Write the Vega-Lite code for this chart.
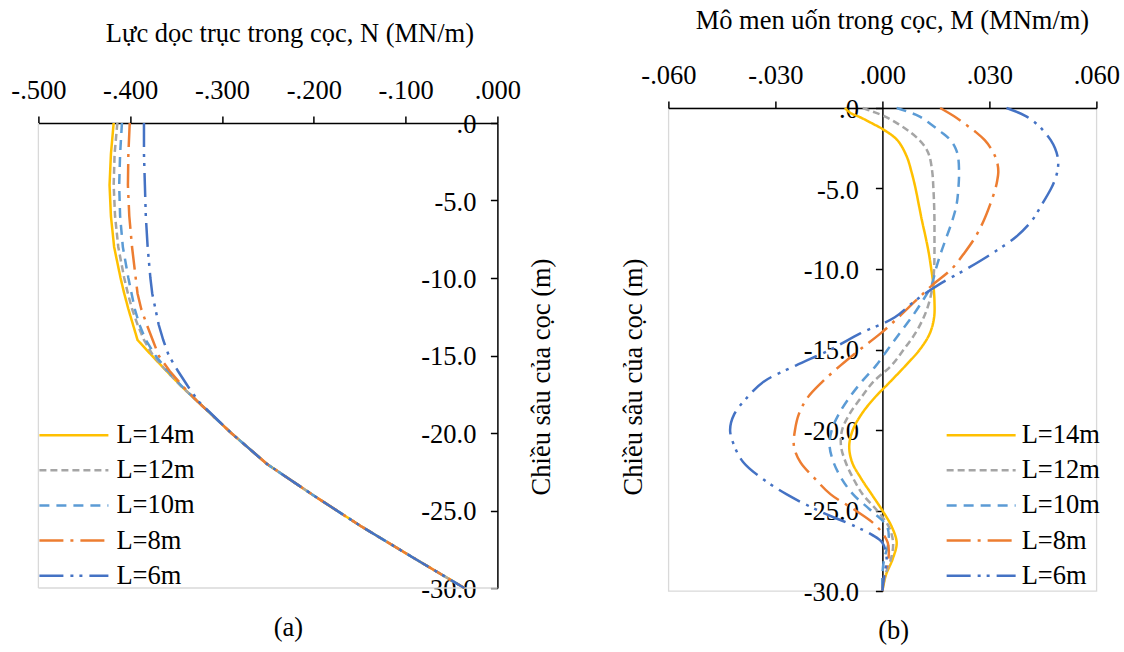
{
 "$schema": "https://vega.github.io/schema/vega-lite/v6.json",
 "padding": {"left": 10.4, "top": 6, "right": 4, "bottom": 4},
 "background": "white",
 "config": {
  "font": "Liberation Serif",
  "view": {"stroke": "#d9d9d9", "strokeWidth": 1.3},
  "axis": {"domainColor": "black", "domainWidth": 1.5, "tickColor": "black", "tickWidth": 1.5, "tickSize": 7, "labelFont": "Liberation Serif", "labelFontSize": 26.5, "labelColor": "black", "titleFont": "Liberation Serif", "titleFontSize": 26.5, "titleFontWeight": "normal", "titleColor": "black", "grid": false, "labelFlush": false, "labelOverlap": false, "labelBound": false},
  "concat": {"spacing": 64},
  "title": {"font": "Liberation Serif", "fontSize": 26.5, "fontWeight": "normal", "color": "black"}
 },
 "datasets": {
  "a": [
   {"L":"L=14m","d":0,"N":-0.418},{"L":"L=14m","d":-2,"N":-0.421},{"L":"L=14m","d":-4,"N":-0.4225},{"L":"L=14m","d":-6,"N":-0.421},{"L":"L=14m","d":-8,"N":-0.4175},{"L":"L=14m","d":-10,"N":-0.4105},{"L":"L=14m","d":-11,"N":-0.4065},{"L":"L=14m","d":-12,"N":-0.402},{"L":"L=14m","d":-13,"N":-0.397},{"L":"L=14m","d":-14,"N":-0.392},{"L":"L=14m","d":-15,"N":-0.3765},{"L":"L=14m","d":-16,"N":-0.3605},{"L":"L=14m","d":-17,"N":-0.344},{"L":"L=14m","d":-18,"N":-0.326},{"L":"L=14m","d":-19,"N":-0.308},{"L":"L=14m","d":-20,"N":-0.29},{"L":"L=14m","d":-22,"N":-0.251},{"L":"L=14m","d":-24,"N":-0.201},{"L":"L=14m","d":-26,"N":-0.149},{"L":"L=14m","d":-28,"N":-0.093},{"L":"L=14m","d":-30,"N":-0.036},
   {"L":"L=12m","d":0,"N":-0.414},{"L":"L=12m","d":-2,"N":-0.417},{"L":"L=12m","d":-4,"N":-0.418},{"L":"L=12m","d":-6,"N":-0.4165},{"L":"L=12m","d":-8,"N":-0.413},{"L":"L=12m","d":-10,"N":-0.4065},{"L":"L=12m","d":-11,"N":-0.4025},{"L":"L=12m","d":-12,"N":-0.398},{"L":"L=12m","d":-13,"N":-0.392},{"L":"L=12m","d":-14,"N":-0.385},{"L":"L=12m","d":-15,"N":-0.375},{"L":"L=12m","d":-16,"N":-0.3605},{"L":"L=12m","d":-17,"N":-0.344},{"L":"L=12m","d":-18,"N":-0.326},{"L":"L=12m","d":-19,"N":-0.308},{"L":"L=12m","d":-20,"N":-0.29},{"L":"L=12m","d":-22,"N":-0.251},{"L":"L=12m","d":-24,"N":-0.201},{"L":"L=12m","d":-26,"N":-0.149},{"L":"L=12m","d":-28,"N":-0.093},{"L":"L=12m","d":-30,"N":-0.036},
   {"L":"L=10m","d":0,"N":-0.409},{"L":"L=10m","d":-2,"N":-0.411},{"L":"L=10m","d":-4,"N":-0.412},{"L":"L=10m","d":-6,"N":-0.411},{"L":"L=10m","d":-8,"N":-0.408},{"L":"L=10m","d":-10,"N":-0.402},{"L":"L=10m","d":-11,"N":-0.3985},{"L":"L=10m","d":-12,"N":-0.395},{"L":"L=10m","d":-13,"N":-0.39},{"L":"L=10m","d":-14,"N":-0.383},{"L":"L=10m","d":-15,"N":-0.3725},{"L":"L=10m","d":-16,"N":-0.359},{"L":"L=10m","d":-17,"N":-0.3435},{"L":"L=10m","d":-18,"N":-0.326},{"L":"L=10m","d":-19,"N":-0.308},{"L":"L=10m","d":-20,"N":-0.29},{"L":"L=10m","d":-22,"N":-0.251},{"L":"L=10m","d":-24,"N":-0.201},{"L":"L=10m","d":-26,"N":-0.149},{"L":"L=10m","d":-28,"N":-0.093},{"L":"L=10m","d":-30,"N":-0.036},
   {"L":"L=8m","d":0,"N":-0.4005},{"L":"L=8m","d":-2,"N":-0.402},{"L":"L=8m","d":-4,"N":-0.4025},{"L":"L=8m","d":-6,"N":-0.401},{"L":"L=8m","d":-8,"N":-0.398},{"L":"L=8m","d":-10,"N":-0.394},{"L":"L=8m","d":-11,"N":-0.392},{"L":"L=8m","d":-12,"N":-0.388},{"L":"L=8m","d":-13,"N":-0.382},{"L":"L=8m","d":-14,"N":-0.3755},{"L":"L=8m","d":-15,"N":-0.369},{"L":"L=8m","d":-16,"N":-0.357},{"L":"L=8m","d":-17,"N":-0.3425},{"L":"L=8m","d":-18,"N":-0.326},{"L":"L=8m","d":-19,"N":-0.308},{"L":"L=8m","d":-20,"N":-0.29},{"L":"L=8m","d":-22,"N":-0.251},{"L":"L=8m","d":-24,"N":-0.201},{"L":"L=8m","d":-26,"N":-0.149},{"L":"L=8m","d":-28,"N":-0.093},{"L":"L=8m","d":-30,"N":-0.036},
   {"L":"L=6m","d":0,"N":-0.385},{"L":"L=6m","d":-2,"N":-0.385},{"L":"L=6m","d":-4,"N":-0.384},{"L":"L=6m","d":-6,"N":-0.383},{"L":"L=6m","d":-8,"N":-0.381},{"L":"L=6m","d":-10,"N":-0.378},{"L":"L=6m","d":-11,"N":-0.376},{"L":"L=6m","d":-12,"N":-0.3725},{"L":"L=6m","d":-13,"N":-0.369},{"L":"L=6m","d":-14,"N":-0.364},{"L":"L=6m","d":-15,"N":-0.358},{"L":"L=6m","d":-16,"N":-0.348},{"L":"L=6m","d":-17,"N":-0.337},{"L":"L=6m","d":-18,"N":-0.325},{"L":"L=6m","d":-19,"N":-0.3075},{"L":"L=6m","d":-20,"N":-0.29},{"L":"L=6m","d":-22,"N":-0.251},{"L":"L=6m","d":-24,"N":-0.201},{"L":"L=6m","d":-26,"N":-0.149},{"L":"L=6m","d":-28,"N":-0.093},{"L":"L=6m","d":-30,"N":-0.036}
  ],
  "b": [
   {"L":"L=14m","d":0,"M":-0.0105},{"L":"L=14m","d":-0.3,"M":-0.009},{"L":"L=14m","d":-0.6,"M":-0.006},{"L":"L=14m","d":-1,"M":-0.0025},{"L":"L=14m","d":-1.3,"M":0},{"L":"L=14m","d":-2,"M":0.0042},{"L":"L=14m","d":-3,"M":0.0068},{"L":"L=14m","d":-4,"M":0.0082},{"L":"L=14m","d":-5,"M":0.0093},{"L":"L=14m","d":-6,"M":0.0102},{"L":"L=14m","d":-7,"M":0.0111},{"L":"L=14m","d":-8,"M":0.0121},{"L":"L=14m","d":-9,"M":0.013},{"L":"L=14m","d":-10,"M":0.0137},{"L":"L=14m","d":-11,"M":0.0143},{"L":"L=14m","d":-12,"M":0.0146},{"L":"L=14m","d":-13,"M":0.0145},{"L":"L=14m","d":-14,"M":0.0133},{"L":"L=14m","d":-15,"M":0.0105},{"L":"L=14m","d":-16,"M":0.0065},{"L":"L=14m","d":-17,"M":0.0022},{"L":"L=14m","d":-18,"M":-0.0022},{"L":"L=14m","d":-19,"M":-0.0058},{"L":"L=14m","d":-20,"M":-0.0083},{"L":"L=14m","d":-21,"M":-0.0093},{"L":"L=14m","d":-22,"M":-0.0085},{"L":"L=14m","d":-23,"M":-0.006},{"L":"L=14m","d":-24,"M":-0.003},{"L":"L=14m","d":-25,"M":0},{"L":"L=14m","d":-26,"M":0.0026},{"L":"L=14m","d":-27,"M":0.004},{"L":"L=14m","d":-28,"M":0.0029},{"L":"L=14m","d":-29,"M":0.001},{"L":"L=14m","d":-30,"M":0},
   {"L":"L=12m","d":0,"M":-0.0055},{"L":"L=12m","d":-0.2,"M":-0.003},{"L":"L=12m","d":-0.5,"M":0.0005},{"L":"L=12m","d":-1,"M":0.0045},{"L":"L=12m","d":-1.5,"M":0.0078},{"L":"L=12m","d":-2,"M":0.0104},{"L":"L=12m","d":-2.5,"M":0.0122},{"L":"L=12m","d":-3,"M":0.0132},{"L":"L=12m","d":-4,"M":0.014},{"L":"L=12m","d":-5,"M":0.0143},{"L":"L=12m","d":-6,"M":0.0145},{"L":"L=12m","d":-7,"M":0.0146},{"L":"L=12m","d":-8,"M":0.0146},{"L":"L=12m","d":-9,"M":0.0146},{"L":"L=12m","d":-10,"M":0.0145},{"L":"L=12m","d":-11,"M":0.0141},{"L":"L=12m","d":-12,"M":0.0132},{"L":"L=12m","d":-13,"M":0.0116},{"L":"L=12m","d":-14,"M":0.0092},{"L":"L=12m","d":-15,"M":0.006},{"L":"L=12m","d":-16,"M":0.0025},{"L":"L=12m","d":-17,"M":-0.0025},{"L":"L=12m","d":-18,"M":-0.006},{"L":"L=12m","d":-19,"M":-0.0092},{"L":"L=12m","d":-20,"M":-0.0113},{"L":"L=12m","d":-21,"M":-0.0116},{"L":"L=12m","d":-22,"M":-0.0103},{"L":"L=12m","d":-23,"M":-0.0082},{"L":"L=12m","d":-24,"M":-0.0055},{"L":"L=12m","d":-25,"M":-0.0015},{"L":"L=12m","d":-26,"M":0.0018},{"L":"L=12m","d":-27,"M":0.003},{"L":"L=12m","d":-28,"M":0.0024},{"L":"L=12m","d":-29,"M":0.0008},{"L":"L=12m","d":-30,"M":0},
   {"L":"L=10m","d":0,"M":0.004},{"L":"L=10m","d":-0.5,"M":0.0102},{"L":"L=10m","d":-1,"M":0.0135},{"L":"L=10m","d":-1.5,"M":0.0165},{"L":"L=10m","d":-2,"M":0.0191},{"L":"L=10m","d":-2.5,"M":0.0205},{"L":"L=10m","d":-3,"M":0.0212},{"L":"L=10m","d":-4,"M":0.0215},{"L":"L=10m","d":-5,"M":0.0213},{"L":"L=10m","d":-6,"M":0.0208},{"L":"L=10m","d":-7,"M":0.0196},{"L":"L=10m","d":-8,"M":0.018},{"L":"L=10m","d":-9,"M":0.0164},{"L":"L=10m","d":-10,"M":0.015},{"L":"L=10m","d":-11,"M":0.0138},{"L":"L=10m","d":-12,"M":0.0112},{"L":"L=10m","d":-13,"M":0.0082},{"L":"L=10m","d":-14,"M":0.0048},{"L":"L=10m","d":-15,"M":0.0015},{"L":"L=10m","d":-16,"M":-0.0018},{"L":"L=10m","d":-17,"M":-0.0058},{"L":"L=10m","d":-18,"M":-0.0093},{"L":"L=10m","d":-19,"M":-0.0122},{"L":"L=10m","d":-20,"M":-0.0142},{"L":"L=10m","d":-21,"M":-0.0148},{"L":"L=10m","d":-22,"M":-0.0137},{"L":"L=10m","d":-23,"M":-0.0115},{"L":"L=10m","d":-24,"M":-0.0082},{"L":"L=10m","d":-25,"M":-0.0032},{"L":"L=10m","d":-26,"M":0.0013},{"L":"L=10m","d":-27,"M":0.0017},{"L":"L=10m","d":-28,"M":0.0005},{"L":"L=10m","d":-29,"M":0},{"L":"L=10m","d":-30,"M":0},
   {"L":"L=8m","d":0,"M":0.0162},{"L":"L=8m","d":-0.5,"M":0.02},{"L":"L=8m","d":-1,"M":0.0232},{"L":"L=8m","d":-1.5,"M":0.0262},{"L":"L=8m","d":-2,"M":0.0287},{"L":"L=8m","d":-2.5,"M":0.0304},{"L":"L=8m","d":-3,"M":0.0316},{"L":"L=8m","d":-3.5,"M":0.0323},{"L":"L=8m","d":-4,"M":0.0325},{"L":"L=8m","d":-4.5,"M":0.0322},{"L":"L=8m","d":-5,"M":0.0317},{"L":"L=8m","d":-6,"M":0.0302},{"L":"L=8m","d":-7,"M":0.0284},{"L":"L=8m","d":-8,"M":0.0261},{"L":"L=8m","d":-9,"M":0.023},{"L":"L=8m","d":-10,"M":0.0194},{"L":"L=8m","d":-11,"M":0.014},{"L":"L=8m","d":-12,"M":0.0092},{"L":"L=8m","d":-13,"M":0.0045},{"L":"L=8m","d":-14,"M":-0.0005},{"L":"L=8m","d":-15,"M":-0.0063},{"L":"L=8m","d":-16,"M":-0.0118},{"L":"L=8m","d":-17,"M":-0.0168},{"L":"L=8m","d":-18,"M":-0.021},{"L":"L=8m","d":-19,"M":-0.0234},{"L":"L=8m","d":-20,"M":-0.0245},{"L":"L=8m","d":-21,"M":-0.0248},{"L":"L=8m","d":-22,"M":-0.023},{"L":"L=8m","d":-23,"M":-0.019},{"L":"L=8m","d":-24,"M":-0.0145},{"L":"L=8m","d":-25,"M":-0.0075},{"L":"L=8m","d":-26,"M":-0.0015},{"L":"L=8m","d":-27,"M":0.0015},{"L":"L=8m","d":-28,"M":0.0017},{"L":"L=8m","d":-29,"M":0.0006},{"L":"L=8m","d":-30,"M":0},
   {"L":"L=6m","d":0,"M":0.0348},{"L":"L=6m","d":-0.5,"M":0.0402},{"L":"L=6m","d":-1,"M":0.0433},{"L":"L=6m","d":-1.5,"M":0.0455},{"L":"L=6m","d":-2,"M":0.0472},{"L":"L=6m","d":-2.5,"M":0.0484},{"L":"L=6m","d":-3,"M":0.0491},{"L":"L=6m","d":-3.5,"M":0.0493},{"L":"L=6m","d":-4,"M":0.049},{"L":"L=6m","d":-4.5,"M":0.0483},{"L":"L=6m","d":-5,"M":0.0473},{"L":"L=6m","d":-6,"M":0.0447},{"L":"L=6m","d":-7,"M":0.0419},{"L":"L=6m","d":-8,"M":0.0375},{"L":"L=6m","d":-9,"M":0.031},{"L":"L=6m","d":-10,"M":0.0236},{"L":"L=6m","d":-11,"M":0.0156},{"L":"L=6m","d":-12,"M":0.009},{"L":"L=6m","d":-13,"M":0.0035},{"L":"L=6m","d":-14,"M":-0.0062},{"L":"L=6m","d":-15,"M":-0.0145},{"L":"L=6m","d":-16,"M":-0.0243},{"L":"L=6m","d":-17,"M":-0.0333},{"L":"L=6m","d":-18,"M":-0.038},{"L":"L=6m","d":-19,"M":-0.0415},{"L":"L=6m","d":-20,"M":-0.0427},{"L":"L=6m","d":-21,"M":-0.0415},{"L":"L=6m","d":-22,"M":-0.039},{"L":"L=6m","d":-23,"M":-0.0338},{"L":"L=6m","d":-24,"M":-0.0268},{"L":"L=6m","d":-25,"M":-0.018},{"L":"L=6m","d":-26,"M":-0.0075},{"L":"L=6m","d":-26.5,"M":-0.003},{"L":"L=6m","d":-27,"M":0},{"L":"L=6m","d":-28,"M":0.0012},{"L":"L=6m","d":-29,"M":0.0005},{"L":"L=6m","d":-30,"M":0}
  ]
 },
 "hconcat": [
  {
   "width": 459,
   "height": 480,
   "view": {"stroke": null},
   "title": {"text": "(a)", "orient": "bottom", "anchor": "middle", "frame": "group", "dx": 20.5, "offset": 25, "baseline": "middle"},
   "layer": [
    {
     "data": {"values": [{}]},
     "mark": {"type": "rule", "color": "#d9d9d9", "strokeWidth": 1.3},
     "encoding": {"x": {"datum": -0.5, "type": "quantitative"}, "y": {"datum": 0, "type": "quantitative"}, "y2": {"datum": -30}}
    },
    {
     "data": {"values": [{}]},
     "mark": {"type": "rule", "color": "#d9d9d9", "strokeWidth": 1.3},
     "encoding": {"y": {"datum": -30, "type": "quantitative"}, "x": {"datum": -0.5, "type": "quantitative"}, "x2": {"datum": 0}}
    },
    {
     "data": {"name": "a"},
     "mark": {"type": "line", "interpolate": "linear", "strokeWidth": 2.5},
     "encoding": {
      "x": {"field": "N", "type": "quantitative",
        "scale": {"domain": [-0.5, 0], "nice": false, "zero": false},
        "axis": {"orient": "top", "offset": -15, "values": [-0.5, -0.4, -0.3, -0.2, -0.1, 0],
          "labelExpr": "(datum.value < 0 ? '-' : '') + replace(format(abs(datum.value), '.3f'), '0.', '.')",
          "labelBaseline": "alphabetic", "labelAlign": "center", "labelPadding": 17.5,
          "title": "Lực dọc trục trong cọc, N (MN/m)", "titleX": 251, "titleY": -90, "titleBaseline": "middle", "titleAlign": "center", "titleAngle": 0}},
      "y": {"field": "d", "type": "quantitative",
        "scale": {"domain": [-30, 0], "range": [480, 15], "nice": false, "zero": false},
        "axis": {"orient": "left", "offset": -459, "values": [0, -5, -10, -15, -20, -25, -30],
          "labelExpr": "datum.value == 0 ? '.0' : '-' + format(abs(datum.value), '.1f')",
          "labelAlign": "right", "labelBaseline": "middle", "labelPadding": 14.5, "labelOffset": 1.5,
          "title": "Chiều sâu của cọc (m)", "titleX": 44, "titleY": 268.5, "titleAngle": 270, "titleBaseline": "middle", "titleAlign": "center"}},
      "color": {"field": "L", "type": "nominal",
        "scale": {"domain": ["L=14m", "L=12m", "L=10m", "L=8m", "L=6m"], "range": ["#FFC000", "#A5A5A5", "#5B9BD5", "#ED7D31", "#4472C4"]},
        "legend": {"title": null, "orient": "none", "legendX": 22.25, "legendY": 314, "symbolType": "M-3,0H3", "symbolSize": 529, "symbolStrokeWidth": 2.5, "labelOffset": 29.25, "rowPadding": 8.1, "padding": 0, "labelFont": "Liberation Serif", "labelFontSize": 26.5, "labelColor": "black", "labelLimit": 400}},
      "strokeDash": {"field": "L", "type": "nominal",
        "scale": {"domain": ["L=14m", "L=12m", "L=10m", "L=8m", "L=6m"], "range": [[1, 0], [7, 4], [10, 7], [24, 7, 3, 7], [24, 7, 3, 6, 3, 7]]},
        "legend": {"title": null, "orient": "none", "legendX": 22.25, "legendY": 314, "symbolType": "M-3,0H3", "symbolSize": 529, "symbolStrokeWidth": 2.5, "labelOffset": 29.25, "rowPadding": 8.1, "padding": 0, "labelFont": "Liberation Serif", "labelFontSize": 26.5, "labelColor": "black", "labelLimit": 400}},
      "order": {"field": "d", "sort": "descending"}
     }
    }
   ]
  },
  {
   "width": 428,
   "height": 483,
   "title": {"text": "(b)", "orient": "bottom", "anchor": "middle", "frame": "group", "dx": 11.3, "offset": 25, "baseline": "middle"},
   "data": {"name": "b"},
   "mark": {"type": "line", "interpolate": "catmull-rom", "strokeWidth": 2.5},
   "encoding": {
    "x": {"field": "M", "type": "quantitative",
      "scale": {"domain": [-0.06, 0.06], "nice": false, "zero": false},
      "axis": {"orient": "top", "values": [-0.06, -0.03, 0, 0.03, 0.06],
        "labelExpr": "(datum.value < 0 ? '-' : '') + replace(format(abs(datum.value), '.3f'), '0.', '.')",
        "labelBaseline": "alphabetic", "labelAlign": "center", "labelPadding": 17.5,
        "title": "Mô men uốn trong cọc, M (MNm/m)", "titleX": 223.5, "titleY": -88, "titleBaseline": "middle", "titleAlign": "center", "titleAngle": 0}},
    "y": {"field": "d", "type": "quantitative",
      "scale": {"domain": [-30, 0], "nice": false, "zero": false},
      "axis": {"orient": "left", "offset": -214, "values": [0, -5, -10, -15, -20, -25, -30],
        "labelExpr": "datum.value == 0 ? '.0' : '-' + format(abs(datum.value), '.1f')",
        "labelAlign": "right", "labelBaseline": "middle", "labelPadding": 17, "labelOffset": 1.5,
        "title": "Chiều sâu của cọc (m)", "titleX": -248.7, "titleY": 268.5, "titleAngle": 270, "titleBaseline": "middle", "titleAlign": "center"}},
    "color": {"field": "L", "type": "nominal",
      "scale": {"domain": ["L=14m", "L=12m", "L=10m", "L=8m", "L=6m"], "range": ["#FFC000", "#A5A5A5", "#5B9BD5", "#ED7D31", "#4472C4"]},
      "legend": {"title": null, "orient": "none", "legendX": 299.5, "legendY": 314, "symbolType": "M-3,0H3", "symbolSize": 529, "symbolStrokeWidth": 2.5, "labelOffset": 27.25, "rowPadding": 8.1, "padding": 0, "labelFont": "Liberation Serif", "labelFontSize": 26.5, "labelColor": "black", "labelLimit": 400}},
    "strokeDash": {"field": "L", "type": "nominal",
      "scale": {"domain": ["L=14m", "L=12m", "L=10m", "L=8m", "L=6m"], "range": [[1, 0], [7, 4], [10, 7], [24, 7, 3, 7], [24, 7, 3, 6, 3, 7]]},
      "legend": {"title": null, "orient": "none", "legendX": 299.5, "legendY": 314, "symbolType": "M-3,0H3", "symbolSize": 529, "symbolStrokeWidth": 2.5, "labelOffset": 27.25, "rowPadding": 8.1, "padding": 0, "labelFont": "Liberation Serif", "labelFontSize": 26.5, "labelColor": "black", "labelLimit": 400}},
    "order": {"field": "d", "sort": "descending"}
   }
  }
 ],
 "resolve": {"scale": {"color": "independent", "strokeDash": "independent"}}
}
